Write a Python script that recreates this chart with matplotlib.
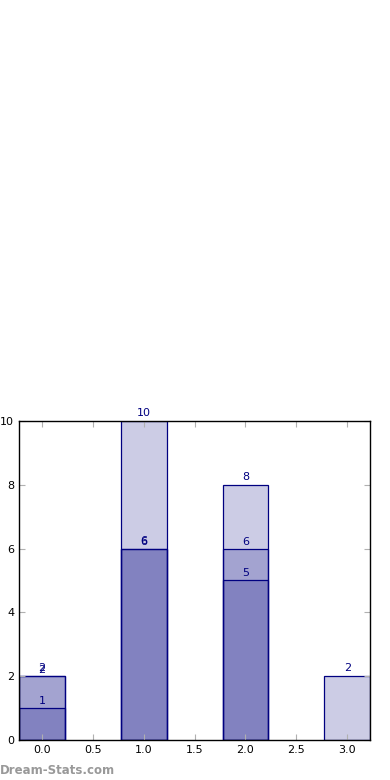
import matplotlib
matplotlib.use("Agg")
import matplotlib.pyplot as plt

positions = [0, 1, 2, 3]
series = [
    [1, 6, 5, 0],
    [2, 6, 6, 0],
    [2, 10, 8, 2],
]
label_pad = [0.08, 0.04, 0.1]

fig = plt.figure(figsize=(3.9, 7.8), dpi=100)
ax = fig.add_axes([0.049, 0.0513, 0.9, 0.409])

for vals, pad in zip(series, label_pad):
    ax.bar(positions, vals, width=0.45, color="navy", alpha=0.2,
           edgecolor="none")
    xs = [x for x, v in zip(positions, vals) if v > 0]
    hs = [v for v in vals if v > 0]
    ax.bar(xs, hs, width=0.45, facecolor="none",
           edgecolor="navy", linewidth=0.9)
    for x, v in zip(xs, hs):
        ax.text(x, v + pad, str(v), ha="center", va="bottom",
                color="navy", fontsize=8)

ax.set_xlim(-0.225, 3.225)
ax.set_ylim(0, 10)
ax.set_xticks([0, 0.5, 1, 1.5, 2, 2.5, 3])
ax.set_xticklabels(["0.0", "0.5", "1.0", "1.5", "2.0", "2.5", "3.0"])
ax.set_yticks([0, 2, 4, 6, 8, 10])
ax.tick_params(direction="in", length=4, color="#b0b0b0", labelsize=8,
               top=True, right=True)
for s in ax.spines.values():
    s.set_linewidth(1)

fig.text(0.0, 0.004, "Dream-Stats.com", color="#999999", fontsize=8.5,
         fontweight="bold", ha="left", va="bottom")

fig.savefig("out.png", dpi=100)
